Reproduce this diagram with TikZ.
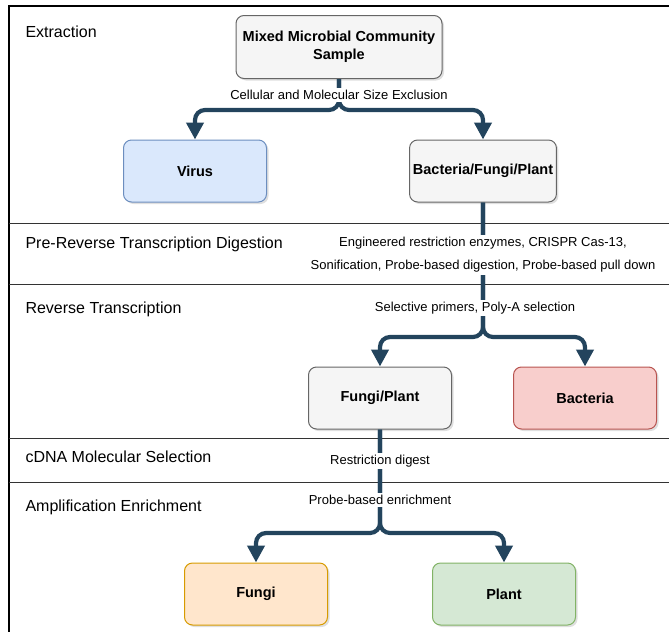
\documentclass[tikz,border=0pt]{standalone}
\usepackage{fontspec}
\setmainfont{Liberation Sans}
\usetikzlibrary{arrows.meta,shadows}
\definecolor{edge}{HTML}{23445D}
\definecolor{gfill}{HTML}{F5F5F5}\definecolor{gdraw}{HTML}{666666}
\definecolor{vfill}{HTML}{DAE8FC}\definecolor{vdraw}{HTML}{6C8EBF}
\definecolor{rfill}{HTML}{F8CECC}\definecolor{rdraw}{HTML}{B85450}
\definecolor{ofill}{HTML}{FFE6CC}\definecolor{odraw}{HTML}{D79B00}
\definecolor{pfill}{HTML}{D5E8D4}\definecolor{pdraw}{HTML}{82B366}
\begin{document}
\begin{tikzpicture}[x=1pt,y=-1pt,
 box/.style={draw,line width=1pt,rounded corners=8pt,minimum width=143pt,minimum height=62pt,align=center,
  font=\fontsize{14.5}{18}\selectfont\bfseries,drop shadow={shadow xshift=2pt,shadow yshift=-2pt,opacity=.25}},
 sec/.style={anchor=west,font=\fontsize{16}{19}\selectfont},
 lbl/.style={fill=white,inner sep=2pt,align=center,font=\fontsize{13}{23}\selectfont},
 flow/.style={draw=edge,line width=4.2pt,rounded corners=10pt,-{Triangle[length=17pt,width=17pt]}}]
\useasboundingbox (0,0) rectangle (669,632);
% stages
\draw[line width=1.5pt] (669,6) -- (9,6) -- (9,632);
\foreach \y in {223,284,438,482} \draw[line width=1pt,black!80] (9,\y) -- (669,\y);
\path (22,32) node[sec] (ext) {Extraction} (22,244) node[sec] (prt) {Pre-Reverse Transcription Digestion}
 (22,309) node[sec] (rt) {Reverse Transcription} (22,457) node[sec] (cdna) {cDNA Molecular Selection}
 (22,507) node[sec] (amp) {Amplification Enrichment};
% boxes
\node[box,fill=gfill,draw=gdraw,minimum width=206pt,minimum height=63pt] (mix) at (339,47) {Mixed Microbial Community\\Sample};
\node[box,fill=vfill,draw=vdraw] (virus) at (195,171) {Virus};
\node[box,fill=gfill,draw=gdraw] (bfp) at (483,171) {Bacteria/Fungi/Plant};
\node[box,fill=gfill,draw=gdraw] (fp) at (380,398) {Fungi/Plant};
\node[box,fill=rfill,draw=rdraw] (bac) at (585,398) {Bacteria};
\node[box,fill=ofill,draw=odraw] (fungi) at (256,594) {Fungi};
\node[box,fill=pfill,draw=pdraw] (plant) at (504,594) {Plant};
% splits
\coordinate (s1) at (339,110); \coordinate (s2) at (483,337); \coordinate (s3) at (380,533);
\foreach \a/\s/\b in {mix/s1/virus, mix/s1/bfp, bfp/s2/fp, bfp/s2/bac, fp/s3/fungi, fp/s3/plant}
 \draw[flow] (\a.south) -- (\s) -| (\b.north);
% methods
\node[lbl] (l1) at (339,95) {Cellular and Molecular Size Exclusion};
\node[lbl] (l2) at (483,255) {Engineered restriction enzymes, CRISPR Cas-13,\\Sonification, Probe-based digestion, Probe-based pull down};
\node[lbl] (l3) at (475,308) {Selective primers, Poly-A selection};
\node[lbl] (l4) at (380,461) {Restriction digest};
\node[lbl] (l5) at (380,500) {Probe-based enrichment};
\end{tikzpicture}
\end{document}
